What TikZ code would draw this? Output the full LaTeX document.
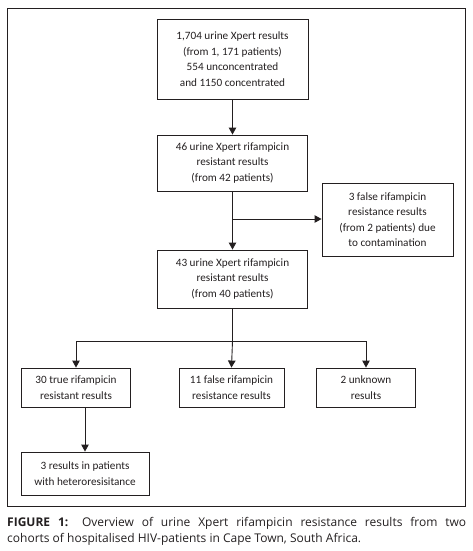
\documentclass[tikz,border=0pt]{standalone}
\usepackage{fontspec}
\setmainfont{Carlito}
\newfontfamily\capfont{Open Sans}
\usetikzlibrary{arrows.meta,calc}
\definecolor{ink}{HTML}{231F20}
\begin{document}
\begin{tikzpicture}[x=1pt,y=-1pt,
  box/.style={draw=ink,line width=0.9pt,align=center,inner sep=2pt,
    font=\fontsize{11.2}{15.5}\selectfont,text=ink},
  conn/.style={draw=ink,line width=0.9pt},
  arr/.style={conn,-{Triangle[length=7pt,width=7.5pt]}}]
\useasboundingbox (0,0) rectangle (473,551);
\draw[ink,line width=0.9pt] (7,8) rectangle (465.5,506);
\node[box,minimum width=151pt,minimum height=80pt] (b1) at (232.5,59)
  {1,704 urine Xpert results\\(from 1, 171 patients)\\554 unconcentrated\\and 1150 concentrated};
\node[box,minimum width=150pt,minimum height=56pt] (b2) at (232.5,163)
  {46 urine Xpert rifampicin\\resistant results\\(from 42 patients)};
\node[box,minimum width=131pt,minimum height=73pt] (b3) at (387.5,219.5)
  {3 false rifampicin\\resistance results\\(from 2 patients) due\\to contamination};
\node[box,minimum width=150pt,minimum height=58pt] (b4) at (232.5,279)
  {43 urine Xpert rifampicin\\resistant results\\(from 40 patients)};
\node[box,minimum width=109pt,minimum height=39pt] (b5) at (76,387.5)
  {30 true rifampicin\\resistant results};
\node[box,minimum width=105pt,minimum height=39pt] (b6) at (231.5,387.5)
  {11 false rifampicin\\resistance results};
\node[box,minimum width=99pt,minimum height=39pt] (b7) at (366,387.5)
  {2 unknown\\results};
\node[box,minimum width=128pt,minimum height=43pt] (b8) at (85,473.5)
  {3 results in patients\\with heteroresisitance};
\coordinate (j1) at (232.5,219);
\coordinate (j2) at (232.5,341);
\draw[arr] (b1.south) -- (b2.north);
\draw[arr] (b2.south) -- (b4.north);
\draw[arr] (j1) -- (b3.west |- j1);
\draw[conn] (b4.south) -- (j2);
\draw[arr] (j2) -| (b5.north);
\draw[arr] (j2) -| (b7.north);
\draw[arr] (j2) -- (b6.north |- b5.north);
\draw[arr] (b8.north |- b5.south) -- (b8.north);
\node[anchor=north west,inner sep=0pt,text width=459pt,align=justify,
  font=\capfont\fontsize{12}{16}\selectfont,text=ink] (cap) at (7,517)
  {\textbf{FIGURE 1:} Overview of urine Xpert rifampicin resistance results from two\linebreak cohorts of hospitalised HIV-patients in Cape Town, South Africa.};
\end{tikzpicture}
\end{document}
